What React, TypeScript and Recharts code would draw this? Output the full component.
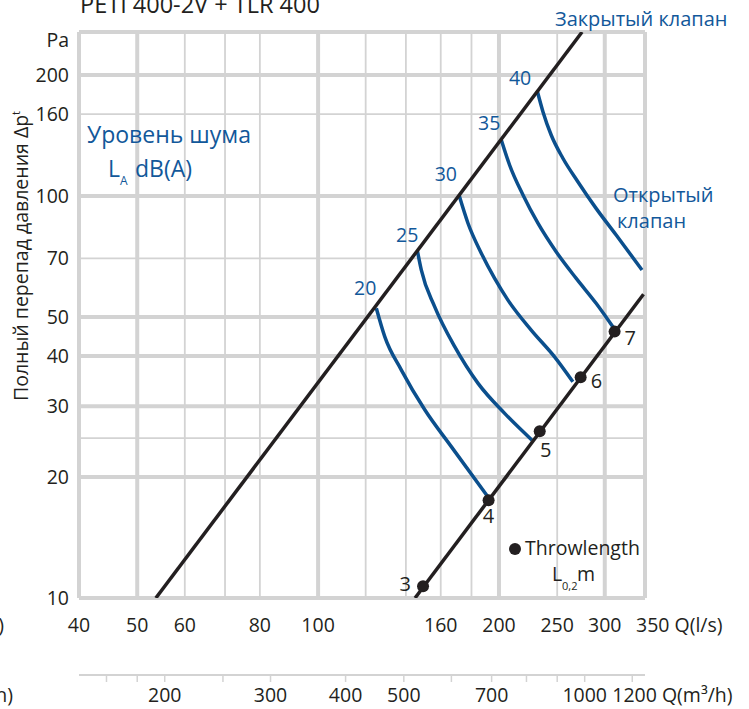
import React from 'react'
import { ComposedChart, Line, Scatter, XAxis, YAxis, ReferenceLine } from 'recharts'

// axes (Q in l/s, Δp in Pa, second scale in m³/h)
const qTicks = [40, 50, 60, 80, 100, 160, 200, 250, 300, 350]
const pTicks = [10, 20, 30, 40, 50, 70, 100, 160, 200]
const m3Ticks = [160, 180, 200, 250, 300, 400, 500, 600, 700, 800, 900, 1000, 1200]
const m3Labels = [200, 300, 400, 500, 700, 1000, 1200]
const m3Range = [144, 1260]

const qGridMajor = [40, 50, 100, 200, 300, 350]
const qGridMinor = [60, 70, 80, 120, 140, 160, 180, 250]
const pGridMajor = [10, 20, 30, 40, 50, 100, 200, 256]
const pGridMinor = [25, 70, 160]

// closed / open damper lines
const closedQ = [53.7, 275]
const closedP = [10, 256]
const openQ = [145, 348]
const openP = [10, 57]

// sound level curves LA dB(A)
const levels = [20, 25, 30, 35, 40]
const levelQ = [
  [125.0, 129.1, 137.6, 150.5, 166.6, 192.0],
  [146.3, 148.5, 156.3, 168.8, 184.6, 204.4, 227.0],
  [171.6, 177.6, 186.9, 196.7, 207.0, 226.3, 247.5, 265.5],
  [201.8, 208.3, 219.3, 232.2, 249.0, 268.9, 290.2, 311.5],
  [231.6, 236.7, 244.3, 255.5, 270.6, 290.2, 313.4, 346],
]
const levelP = [
  [52.6, 44.7, 36.9, 29.4, 23.8, 17.8],
  [73.1, 65.5, 53.1, 42.2, 34.2, 28.8, 24.7],
  [100.6, 85.6, 72.1, 62.4, 55.1, 46.4, 39.8, 34.5],
  [137.9, 119.5, 100.6, 85.6, 72.7, 62.4, 54.1, 46.6],
  [182.6, 162.2, 141.9, 124.2, 108.6, 93.2, 80.0, 65.5],
]

// throw length points L0,2 (m)
const throwNames = ['3', '4', '5', '6', '7']
const throwQ = [149.5, 192.2, 233.8, 273.5, 311.5]
const throwP = [10.7, 17.5, 26.0, 35.4, 46.0]

const FONT = '"Open Sans", sans-serif'
const INK = '#231f20'
const BLUE = '#0b4f8d'
const BLUE_TEXT = '#12589a'
const GRID = '#d3d3d3'

const closedData = closedQ.map((q, i) => ({ q, p: closedP[i] }))
const openData = openQ.map((q, i) => ({ q, p: openP[i] }))
const levelData = levels.map((_, k) => levelQ[k].map((q, i) => ({ q, p: levelP[k][i] })))
const throwData = throwNames.map((name, i) => ({ name, q: throwQ[i], p: throwP[i] }))
const m3Data = m3Range.map((m3) => ({ m3, p: 10 }))

// label placement next to the marks
const levelLabelOffset: Record<number, [number, number]> = {
  20: [0, -13],
  25: [1, -9],
  30: [-2, -14],
  35: [-1, -10],
  40: [-6, -6],
}
const throwLabelOffset: Record<string, [number, number, 'start' | 'middle' | 'end']> = {
  '3': [-12, 5, 'end'],
  '4': [0, 23, 'middle'],
  '5': [6, 26, 'middle'],
  '6': [10, 11, 'start'],
  '7': [10, 13, 'start'],
}

const QTick = (props: any) => {
  const { x, y, payload } = props
  const v = payload.value
  if (v === 350) {
    return (
      <text x={x - 9} y={y + 34} fontSize={19.5} fontFamily={FONT} fill={INK}>
        350 Q(l/s)
      </text>
    )
  }
  return (
    <text x={x} y={y + 34} textAnchor="middle" fontSize={19.5} fontFamily={FONT} fill={INK}>
      {v}
    </text>
  )
}

const M3Tick = (props: any) => {
  const { x, y, payload } = props
  const v = payload.value
  if (!m3Labels.includes(v)) return <g />
  if (v === 1200) {
    return (
      <text x={x - 20} y={y + 20} fontSize={19.5} fontFamily={FONT} fill={INK}>
        1200 Q(m³/h)
      </text>
    )
  }
  return (
    <text x={x} y={y + 20} textAnchor="middle" fontSize={19.5} fontFamily={FONT} fill={INK}>
      {v}
    </text>
  )
}

const PTick = (props: any) => {
  const { x, y, payload } = props
  return (
    <text x={x - 10} y={y + 7} textAnchor="end" fontSize={19.5} fontFamily={FONT} fill={INK}>
      {payload.value}
    </text>
  )
}

const levelDot = (level: number) => (props: any) => {
  const { cx, cy, index } = props
  if (index !== 0) return <g key={`l${level}-${index}`} />
  const [dx, dy] = levelLabelOffset[level]
  return (
    <text key={`l${level}-${index}`} x={cx + dx} y={cy + dy} textAnchor="end" fontSize={19.5} fontFamily={FONT} fill={BLUE_TEXT}>
      {level}
    </text>
  )
}

const ThrowShape = (props: any) => {
  const { cx, cy, payload } = props
  const [dx, dy, anchor] = throwLabelOffset[payload.name]
  return (
    <g>
      <circle cx={cx} cy={cy} r={6} fill={INK} />
      <text x={cx + dx} y={cy + dy} textAnchor={anchor} fontSize={20} fontFamily={FONT} fill={INK}>
        {payload.name}
      </text>
    </g>
  )
}

export default function App() {
  return (
    <div style={{ position: 'absolute', left: 0, top: 0, width: 749, height: 709, background: '#fff', fontFamily: FONT }}>
      <ComposedChart width={749} height={709} margin={{ top: 32, right: 104, bottom: 0, left: 0 }}>
        <XAxis
          xAxisId="ls"
          dataKey="q"
          type="number"
          scale="log"
          domain={[40, 350]}
          allowDataOverflow
          ticks={qTicks}
          interval={0}
          height={77}
          axisLine={false}
          tickLine={false}
          tickSize={0}
          tickMargin={0}
          tick={<QTick />}
        />
        <XAxis
          xAxisId="m3"
          dataKey="m3"
          type="number"
          scale="log"
          domain={[144, 1260]}
          allowDataOverflow
          ticks={m3Ticks}
          interval={0}
          height={34}
          axisLine={{ stroke: GRID, strokeWidth: 2 }}
          tickLine={{ stroke: GRID, strokeWidth: 1.5 }}
          tickSize={7}
          tickMargin={0}
          tick={<M3Tick />}
        />
        <YAxis
          yAxisId="pa"
          dataKey="p"
          type="number"
          scale="log"
          domain={[10, 256]}
          allowDataOverflow
          ticks={pTicks}
          interval={0}
          width={79}
          axisLine={false}
          tickLine={false}
          tickSize={0}
          tickMargin={0}
          tick={<PTick />}
        />

        {qGridMinor.map((v) => (
          <ReferenceLine key={`qm${v}`} xAxisId="ls" yAxisId="pa" x={v} stroke={GRID} strokeWidth={1.8} />
        ))}
        {pGridMinor.map((v) => (
          <ReferenceLine key={`pm${v}`} xAxisId="ls" yAxisId="pa" y={v} stroke={GRID} strokeWidth={1.8} />
        ))}
        {qGridMajor.map((v) => (
          <ReferenceLine key={`qM${v}`} xAxisId="ls" yAxisId="pa" x={v} stroke={GRID} strokeWidth={4} />
        ))}
        {pGridMajor.map((v) => (
          <ReferenceLine key={`pM${v}`} xAxisId="ls" yAxisId="pa" y={v} stroke={GRID} strokeWidth={4} />
        ))}

        {/* invisible carrier so the m³/h axis gets its scale */}
        <Line xAxisId="m3" yAxisId="pa" data={m3Data} dataKey="p" stroke="none" dot={false} activeDot={false} isAnimationActive={false} />

        {levelData.map((d, k) => (
          <Line
            key={`lv${levels[k]}`}
            xAxisId="ls"
            yAxisId="pa"
            data={d}
            dataKey="p"
            type="monotone"
            stroke={BLUE}
            strokeWidth={3.5}
            dot={levelDot(levels[k])}
            activeDot={false}
            isAnimationActive={false}
          />
        ))}
        <Line xAxisId="ls" yAxisId="pa" data={closedData} dataKey="p" type="linear" stroke={INK} strokeWidth={3.5} dot={false} activeDot={false} isAnimationActive={false} />
        <Line xAxisId="ls" yAxisId="pa" data={openData} dataKey="p" type="linear" stroke={INK} strokeWidth={3.5} dot={false} activeDot={false} isAnimationActive={false} />
        <Scatter xAxisId="ls" yAxisId="pa" data={throwData} dataKey="p" fill={INK} shape={<ThrowShape />} isAnimationActive={false} />
      </ComposedChart>

      <svg width={749} height={709} style={{ position: 'absolute', left: 0, top: 0, pointerEvents: 'none' }} fontFamily={FONT}>
        <text x={80} y={13} fontSize={23.5} fill={INK}>PETI 400-2V + TLR 400</text>
        <text x={555} y={26} fontSize={20} fill={BLUE_TEXT}>Закрытый клапан</text>
        <text x={87} y={143} fontSize={23} fill={BLUE_TEXT}>Уровень шума</text>
        <text x={108} y={177} fontSize={23} fill={BLUE_TEXT}>L</text>
        <text x={120} y={185} fontSize={12} fill={BLUE_TEXT}>A</text>
        <text x={135} y={177} fontSize={23} fill={BLUE_TEXT}>dB(A)</text>
        <text x={613} y={202} fontSize={20} fill={BLUE_TEXT}>Открытый</text>
        <text x={617} y={228} fontSize={20} fill={BLUE_TEXT}>клапан</text>
        <text x={69} y={47} textAnchor="end" fontSize={19.5} fill={INK}>Pa</text>
        <text x={28} y={256} textAnchor="middle" fontSize={19.5} fill={INK} transform="rotate(-90 28 256)">
          Полный перепад давления Δp<tspan fontSize={11} dy={-8}>t</tspan>
        </text>
        <circle cx={515} cy={549} r={6} fill={INK} />
        <text x={525} y={555} fontSize={19.5} fill={INK}>Throwlength</text>
        <text x={552} y={581} fontSize={19.5} fill={INK}>L</text>
        <text x={562} y={590} fontSize={11} fill={INK}>0,2</text>
        <text x={577} y={581} fontSize={19.5} fill={INK}>m</text>
        <text x={4} y={632} textAnchor="end" fontSize={19.5} fill={INK}>Q(l/s)</text>
        <text x={13} y={702} textAnchor="end" fontSize={19.5} fill={INK}>Q(m³/h)</text>
      </svg>
    </div>
  )
}
